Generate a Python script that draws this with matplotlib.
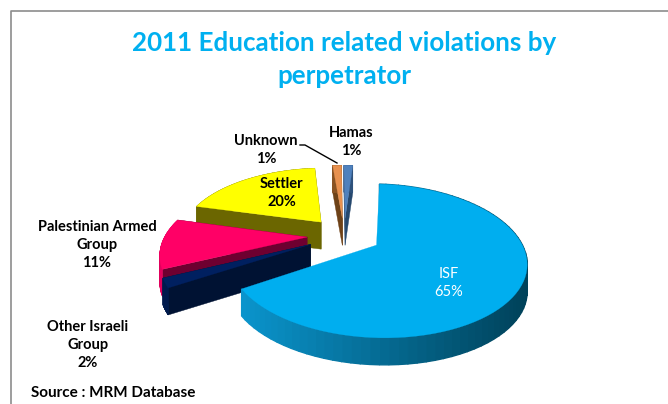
import numpy as np
from matplotlib import pyplot as plt
from matplotlib.colors import to_rgb

title = "2011 Education related violations by\nperpetrator"
categories = ["ISF", "Other Israeli\nGroup", "Palestinian Armed\nGroup", "Settler", "Unknown", "Hamas"]
shares = [65, 2, 11, 19.5, 1.25, 1.25]
source = "Source : MRM Database"

top_colors = ["#00aeef", "#002060", "#ff0066", "#ffff00", "#e8914f", "#4f81bd"]
rim_colors = ["#0090c8", "#001a4d", "#e0005c", "#6b6600", "#8a5424", "#2f527c"]
cut_colors = ["#005a7a", "#001233", "#6e0030", "#6b6600", "#6e4218", "#26486e"]
label_pos = [(449, 283), (88, 345), (97, 245), (282, 193), (266, 150), (351, 142)]
label_colors = ["white", "black", "black", "black", "black", "black"]

# projection of the pie plane, in pixels
cx, cy = 344, 235.5
a, b = 142, 69.8
k = 0.2
explode = 0.26
depth = 27
first_angle = 4


def project(u, v, drop=0):
    s = 1 / (1 + k * v)
    return cx + a * u * s, cy - b * v * s + drop


def wedge_points(t0, t1, n=80):
    # angles clockwise from north, radians
    mid = (t0 + t1) / 2
    ou, ov = explode * np.sin(mid), explode * np.cos(mid)
    th = np.linspace(t0, t1, n)
    return ou, ov, ou + np.sin(th), ov + np.cos(th)


def i_z(i):
    # back to front: Hamas first, ISF last
    return 2 + (len(shares) - i)


def draw_slice(ax, t0, t1, i):
    ou, ov, us, vs = wedge_points(t0, t1)
    apex = project(ou, ov)
    apex_low = project(ou, ov, depth)
    x, y = project(us, vs)
    # cut faces, the ISF ones are hidden in the reference
    if i != 0:
        for j in (0, -1):
            ax.fill([apex[0], x[j], x[j], apex_low[0]],
                    [apex[1], y[j], y[j] + depth, apex_low[1]],
                    color=cut_colors[i], lw=0.3, zorder=i_z(i))
    # rim, ISF gets a shading from left to right
    for j in range(len(x) - 1):
        col = rim_colors[i]
        lw = 0.3
        if i == 0:
            f = np.clip((x[j] - 245) / 282, 0, 1)
            col = tuple((1 - f) * np.array(to_rgb("#0a94cc")) + f * np.array(to_rgb("#00425a")))
            lw = 1.0
        ax.fill([x[j], x[j + 1], x[j + 1], x[j]],
                [y[j], y[j + 1], y[j + 1] + depth, y[j] + depth],
                color=col, lw=lw, zorder=i_z(i))
    ax.fill(np.r_[apex[0], x], np.r_[apex[1], y], color=top_colors[i], lw=0.2, zorder=i_z(i) + 0.5)


fig = plt.figure(figsize=(6.68, 4.04), dpi=100)
ax = fig.add_axes([0, 0, 1, 1])
ax.set_xlim(0, 668)
ax.set_ylim(404, 0)
ax.axis("off")

edges = np.radians(first_angle + np.r_[0, np.cumsum(shares)] * 3.6)
for i in range(len(shares)):
    draw_slice(ax, edges[i], edges[i + 1], i)

# chart border, only top and left are in frame
ax.plot([10.5, 10.5, 668], [404, 10.5, 10.5], color="#8c8c8c", lw=1.2, zorder=1)

ax.text(344, 59.5, title, color="#00b0f0", fontsize=18.7, fontweight="bold", family="Lato",
        ha="center", va="center", linespacing=1.45, zorder=20)

for i, name in enumerate(categories):
    ax.text(label_pos[i][0], label_pos[i][1], "%s\n%.0f%%" % (name, shares[i]), color=label_colors[i],
            fontsize=10.5, fontweight="normal" if i == 0 else "bold", family="Lato",
            ha="center", va="center", linespacing=1.4, zorder=20)

# leader line for Unknown
ax.plot([300, 305, 337], [145, 145, 163], color="black", lw=1, zorder=19)

ax.text(31, 393, source, color="black", fontsize=11, fontweight="bold", family="Lato",
        ha="left", va="center", zorder=20)

plt.savefig("out.png", dpi=100)
